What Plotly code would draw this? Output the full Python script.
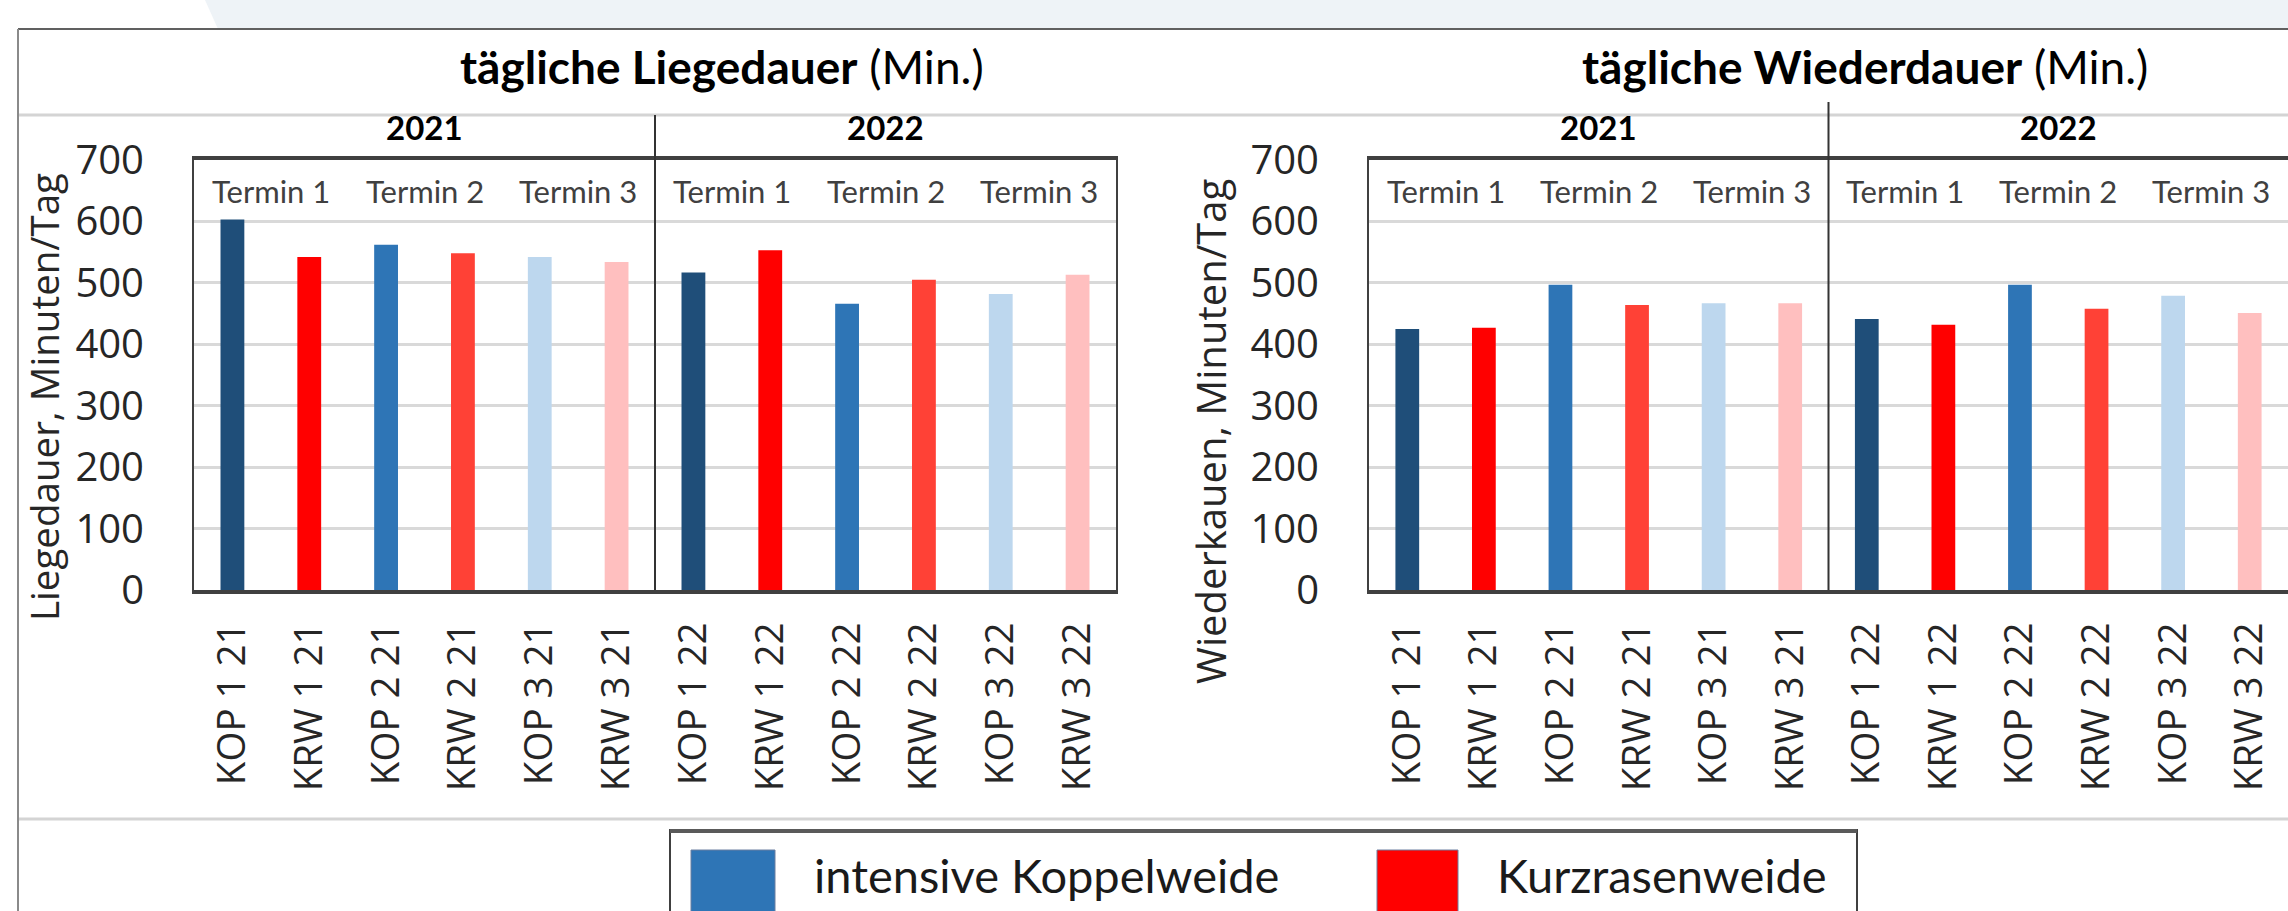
import plotly.graph_objects as go

W, H = 2288, 911

categories = ["KOP 1 21", "KRW 1 21", "KOP 2 21", "KRW 2 21", "KOP 3 21", "KRW 3 21",
              "KOP 1 22", "KRW 1 22", "KOP 2 22", "KRW 2 22", "KOP 3 22", "KRW 3 22"]
liegedauer = [603, 542, 562, 548, 542, 534, 517, 553, 466, 505, 482, 513]
wiederkauen = [425, 427, 497, 464, 467, 467, 441, 432, 497, 458, 479, 451]
bar_colors = ["#1F4E79", "#FF0000", "#2E75B6", "#FF4136", "#BDD7EE", "#FFBFBF",
              "#1F4E79", "#FF0000", "#2E75B6", "#FF4136", "#BDD7EE", "#FFBFBF"]
years = ["2021", "2022"]
termine = ["Termin 1", "Termin 2", "Termin 3", "Termin 1", "Termin 2", "Termin 3"]
legend_labels = ["intensive Koppelweide", "Kurzrasenweide"]
legend_colors = ["#2E75B6", "#FF0000"]


def px(x):
    return x / W


def py(y):
    return 1 - y / H


fig = go.Figure()
fig.add_trace(go.Bar(x=categories, y=liegedauer, marker=dict(color=bar_colors, line=dict(width=0)),
                     width=0.31, xaxis="x", yaxis="y", showlegend=False))
fig.add_trace(go.Bar(x=categories, y=wiederkauen, marker=dict(color=bar_colors, line=dict(width=0)),
                     width=0.31, xaxis="x2", yaxis="y2", showlegend=False))

ytickfont = dict(family="Open Sans", size=40, color="#262626")
xtickfont = dict(family="Open Sans", size=38.5, color="#262626")
ydom = [py(590), py(160)]


def xax(dom, anchor):
    return dict(domain=dom, anchor=anchor, type="category", range=[-0.5, 11.5],
                tickangle=-90, tickfont=xtickfont, showline=True, mirror=True,
                linecolor="#404040", linewidth=4, ticks="", showgrid=False,
                ticklabelstandoff=13, fixedrange=True, automargin=False)


def yax(anchor):
    return dict(domain=ydom, anchor=anchor, range=[0, 700], dtick=100, tickfont=ytickfont,
                showline=True, mirror=True, linecolor="#404040", linewidth=2,
                showgrid=True, gridcolor="#D9D9D9", gridwidth=3, zeroline=False,
                ticks="", ticklabelstandoff=40, fixedrange=True, automargin=False)


fig.update_layout(
    width=W, height=H, margin=dict(l=0, r=0, t=0, b=0, pad=0, autoexpand=False),
    paper_bgcolor="white", plot_bgcolor="white",
    xaxis=xax([px(194), px(1116)], "y"),
    yaxis=yax("x"),
    xaxis2=xax([px(1369), 1.0], "y2"),
    yaxis2=yax("x2"),
    showlegend=False,
)

shapes = []
# slide background above the chart
shapes.append(dict(type="rect", xref="paper", yref="paper", x0=0, x1=1, y0=py(29), y1=1,
                   fillcolor="#EEF3F7", line=dict(width=0), layer="below"))
shapes.append(dict(type="path", xref="paper", yref="paper",
                   path=f"M 0 1 L {px(205)} 1 L {px(218)} {py(29)} L 0 {py(29)} Z",
                   fillcolor="white", line=dict(width=0), layer="below"))
# outer chart border
shapes.append(dict(type="line", xref="paper", yref="paper", x0=px(18), x1=1, y0=py(29), y1=py(29),
                   line=dict(color="#606060", width=2)))
shapes.append(dict(type="line", xref="paper", yref="paper", x0=px(18), x1=px(18), y0=py(29), y1=0,
                   line=dict(color="#8A8A8A", width=2)))
# light separators
for yy in (115, 819):
    shapes.append(dict(type="line", xref="paper", yref="paper", x0=px(19), x1=1, y0=py(yy), y1=py(yy),
                       line=dict(color="#D4D4D4", width=3)))
# year separators
shapes.append(dict(type="line", xref="x", yref="paper", x0=5.5, x1=5.5, y0=py(590), y1=py(115),
                   line=dict(color="#333333", width=2)))
shapes.append(dict(type="line", xref="x2", yref="paper", x0=5.5, x1=5.5, y0=py(590), y1=py(102),
                   line=dict(color="#333333", width=2)))
# legend box
shapes.append(dict(type="rect", xref="paper", yref="paper", x0=px(670), x1=px(1857), y0=py(940), y1=py(830),
                   fillcolor="white", line=dict(color="#404040", width=2)))
shapes.append(dict(type="line", xref="paper", yref="paper", x0=px(670), x1=px(1857), y0=py(831), y1=py(831),
                   line=dict(color="#5A5A5A", width=4)))
swatch_x = [(691, 775), (1377, 1458)]
for (a, b), c in zip(swatch_x, legend_colors):
    shapes.append(dict(type="rect", xref="paper", yref="paper", x0=px(a), x1=px(b), y0=py(915), y1=py(850),
                       fillcolor=c, line=dict(color="#6A7FA0", width=1)))

ann = []
titlefont = dict(family="Lato", size=46, color="black")
ann.append(dict(text="<b>tägliche Liegedauer</b> (Min.)", x=px(722), y=py(67), xref="paper", yref="paper",
                showarrow=False, font=titlefont, xanchor="center", yanchor="middle"))
ann.append(dict(text="<b>tägliche Wiederdauer</b> (Min.)", x=px(1865), y=py(67), xref="paper", yref="paper",
                showarrow=False, font=titlefont, xanchor="center", yanchor="middle"))
for xr in ("x", "x2"):
    for i, yr in enumerate(years):
        ann.append(dict(text=f"<b>{yr}</b>", x=2.5 + 6 * i, y=py(127), xref=xr, yref="paper",
                        showarrow=False, font=dict(family="Lato", size=33, color="black"),
                        xanchor="center", yanchor="middle"))
    yr_ref = "y" if xr == "x" else "y2"
    for i, t in enumerate(termine):
        ann.append(dict(text=t, x=0.5 + 2 * i, y=650, xref=xr, yref=yr_ref, showarrow=False,
                        font=dict(family="Lato", size=31, color="#404040"),
                        xanchor="center", yanchor="middle"))
ann.append(dict(text="Liegedauer, Minuten/Tag", x=px(44), y=py(397), xref="paper", yref="paper",
                textangle=-90, showarrow=False,
                font=dict(family="Open Sans", size=38.5, color="#262626"),
                xanchor="center", yanchor="middle"))
ann.append(dict(text="Wiederkauen, Minuten/Tag", x=px(1210), y=py(432), xref="paper", yref="paper",
                textangle=-90, showarrow=False,
                font=dict(family="Open Sans", size=40, color="#262626"),
                xanchor="center", yanchor="middle"))
legend_text_x = [812, 1495]
for lx, lab in zip(legend_text_x, legend_labels):
    ann.append(dict(text=lab, x=px(lx), y=py(875), xref="paper", yref="paper", showarrow=False,
                    font=dict(family="Lato", size=47, color="#1A1A1A"), xanchor="left", yanchor="middle"))

fig.update_layout(shapes=shapes, annotations=ann)
fig.write_html("out.html", config={"displayModeBar": False},
               post_script="document.body.style.margin='0px';document.body.style.overflow='hidden';")
